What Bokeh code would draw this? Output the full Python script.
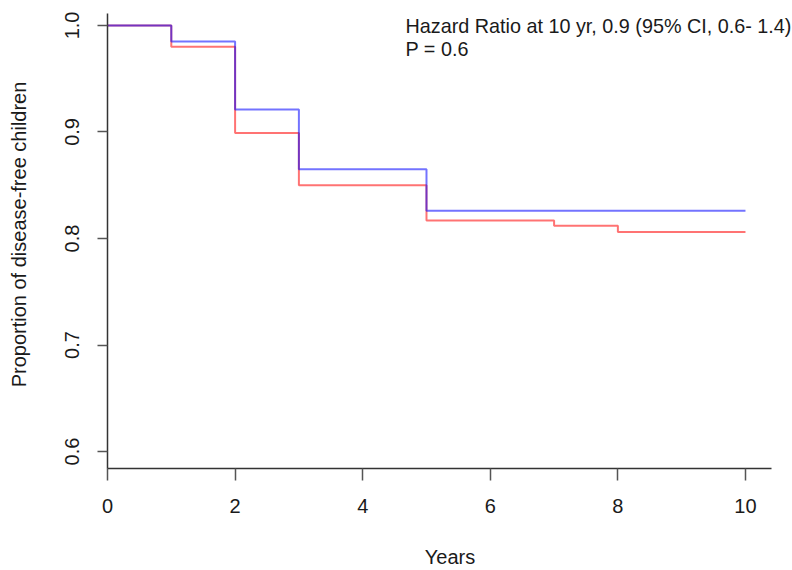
from bokeh.plotting import figure
from bokeh.models import Range1d, Label, FixedTicker, PrintfTickFormatter
from bokeh.embed import file_html
from bokeh.resources import INLINE

# Data (Kaplan-Meier step curves)
blue_years = [0, 1, 2, 3, 5, 10]
blue_prop = [1.0, 0.985, 0.921, 0.865, 0.826, 0.826]
red_years = [0, 1, 2, 3, 5, 7, 8, 10]
red_prop = [1.0, 0.980, 0.899, 0.850, 0.817, 0.812, 0.806, 0.806]
x_ticks = [0, 2, 4, 6, 8, 10]
y_ticks = [0.6, 0.7, 0.8, 0.9, 1.0]

FONT = "Liberation Sans"
TXT = "#1a1a1a"

p = figure(width=792, height=570, output_backend="svg", toolbar_location=None,
           x_range=Range1d(0, 10.737), y_range=Range1d(0.58407, 1.02342),
           min_border_left=107, min_border_right=0, min_border_top=0,
           min_border_bottom=101, outline_line_color=None,
           background_fill_color="white", border_fill_color="white")
p.grid.visible = False

p.step(red_years, red_prop, mode="after", line_color="red", line_alpha=0.55, line_width=2)
p.step(blue_years, blue_prop, mode="after", line_color="blue", line_alpha=0.55, line_width=2)

for ax in (p.xaxis[0], p.yaxis[0]):
    ax.axis_line_color = "#333333"
    ax.axis_line_width = 1.5
    ax.major_tick_line_color = "#555555"
    ax.major_tick_line_width = 1.5
    ax.major_tick_in = 0
    ax.minor_tick_line_color = None
    ax.major_label_text_font = FONT
    ax.major_label_text_font_size = "20px"
    ax.major_label_text_color = TXT
    ax.axis_label_text_font = FONT
    ax.axis_label_text_font_size = "20px"
    ax.axis_label_text_font_style = "normal"
    ax.axis_label_text_color = TXT

xa = p.xaxis[0]
xa.ticker = FixedTicker(ticks=x_ticks)
xa.bounds = (0, 10.407)
xa.major_tick_out = 12
xa.major_label_standoff = 18
xa.axis_label = "Years"
xa.axis_label_standoff = 30

ya = p.yaxis[0]
ya.ticker = FixedTicker(ticks=y_ticks)
ya.formatter = PrintfTickFormatter(format="%.1f")
ya.bounds = (0.58407, 1.01124)
ya.major_tick_out = 10
ya.major_label_standoff = 18
ya.major_label_orientation = "parallel"
ya.axis_label = "Proportion of disease-free children"
ya.axis_label_standoff = 33

p.add_layout(Label(x=4.671, y=0.9991, text="Hazard Ratio at 10 yr, 0.9 (95% CI, 0.6- 1.4)",
                   text_font=FONT, text_font_size="19.8px", text_color=TXT,
                   text_baseline="alphabetic"))
p.add_layout(Label(x=4.671, y=0.9775, text="P = 0.6",
                   text_font=FONT, text_font_size="19.8px", text_color=TXT,
                   text_baseline="alphabetic"))

open("out.html", "w").write(file_html(p, INLINE))
